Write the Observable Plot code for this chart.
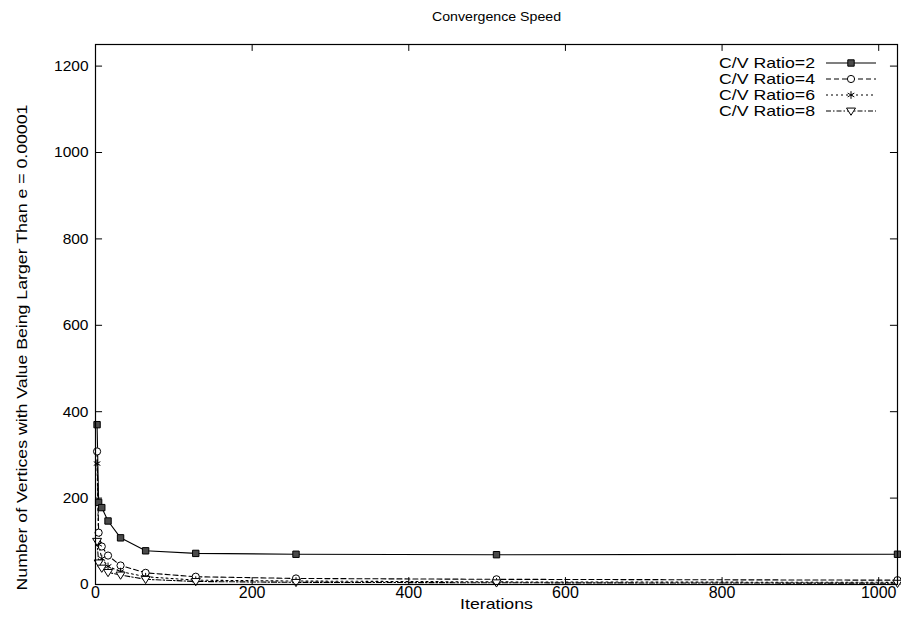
<!DOCTYPE html>
<html><head><meta charset="utf-8">
<script src="https://cdn.jsdelivr.net/npm/d3@7"></script>
<script src="https://cdn.jsdelivr.net/npm/@observablehq/plot@0.6"></script>
<style>body{margin:0;background:#fff} svg{display:block}</style>
</head><body><div id="chart"></div>
<script>
const iterations = [2, 4, 8, 16, 32, 64, 128, 256, 512, 1024];
const ratio2 = [370, 190, 178, 147, 108, 78, 72, 70, 69, 70];
const ratio4 = [308, 120, 88, 67, 44, 27, 18, 14, 12, 10];
const ratio6 = [280, 93, 60, 42, 30, 18, 10, 8, 6, 5];
const ratio8 = [100, 50, 38, 28, 22, 12, 7, 5, 4, 3];
const seriesNames = ["C/V Ratio=2", "C/V Ratio=4", "C/V Ratio=6", "C/V Ratio=8"];
const seriesValues = [ratio2, ratio4, ratio6, ratio8];
const xTicks = [0, 200, 400, 600, 800, 1000];
const yTicks = [0, 200, 400, 600, 800, 1000, 1200];
const titleText = "Convergence Speed";
const xLabel = "Iterations";
const yLabel = "Number of Vertices with Value Being Larger Than e = 0.00001";

const FONT = "'Liberation Sans', Arial, Helvetica, sans-serif";
const dashes = [null, "5,3", "2,3", "5,2,1.5,2"];
const triDown = {
  draw(ctx, size) {
    const r = Math.sqrt(size / Math.PI) * 1.25;
    ctx.moveTo(-r, -r * 0.65);
    ctx.lineTo(r, -r * 0.65);
    ctx.lineTo(0, r * 0.95);
    ctx.closePath();
  }
};
const symbols = ["square", "circle", "asterisk", triDown];
const fills = ["#4a4a4a", "white", "none", "white"];

const rows = [];
seriesNames.forEach((s, i) => iterations.forEach((x, j) => rows.push({series: s, idx: i, x, y: seriesValues[i][j]})));

const lineMarks = seriesNames.map((s, i) => Plot.line(rows.filter(d => d.idx === i), {
  x: "x", y: "y", stroke: "black", strokeWidth: 1.1, strokeDasharray: dashes[i]
}));
const dotMarks = seriesNames.map((s, i) => Plot.dot(rows.filter(d => d.idx === i), {
  x: "x", y: "y", symbol: () => symbols[i], r: 3.6, stroke: "black", strokeWidth: 1, fill: fills[i]
}));

const chart = Plot.plot({
  width: 901, height: 639,
  marginLeft: 95, marginRight: 4, marginTop: 44, marginBottom: 55,
  x: {domain: [0, 1024], axis: null, label: null},
  y: {domain: [0, 1250], axis: null, label: null},
  symbol: {type: "identity"},
  style: {fontFamily: FONT, fontSize: "15px", color: "black", background: "white"},
  marks: [
    Plot.text(xTicks, {x: d => d, text: d => String(d), frameAnchor: "bottom", lineAnchor: "top", dy: 2, fontSize: 16, className: "tick"}),
    Plot.text(yTicks, {y: d => d, text: d => String(d), frameAnchor: "left", textAnchor: "end", lineAnchor: "middle", dx: -7, fontSize: 15.5, className: "tick"}),
    Plot.ruleX(xTicks, {x: d => d, y1: 0, y2: 16, stroke: "black"}),
    Plot.ruleX(xTicks, {x: d => d, y1: 1234, y2: 1250, stroke: "black"}),
    Plot.ruleY(yTicks, {y: d => d, x1: 0, x2: 9, stroke: "black"}),
    Plot.ruleY(yTicks, {y: d => d, x1: 1015, x2: 1024, stroke: "black"}),
    ...lineMarks,
    ...dotMarks,
    Plot.frame({stroke: "black", strokeWidth: 1.2}),
    Plot.text([titleText], {frameAnchor: "top", lineAnchor: "middle", dy: -27, fontSize: 12, className: "lbl"}),
    Plot.text([xLabel], {frameAnchor: "bottom", lineAnchor: "middle", dy: 20, fontSize: 15, className: "lbl"}),
    Plot.text([yLabel], {frameAnchor: "bottom-left", textAnchor: "start", lineAnchor: "middle", dx: -73, dy: 6, rotate: -90, fontSize: 15, className: "lbl"})
  ]
});
document.getElementById("chart").appendChild(chart);

// Legend (gnuplot style, inside top-right)
const svg = d3.select(chart);
const lg = svg.append("g").attr("class", "lbl").attr("font-family", FONT).attr("font-size", 15);
seriesNames.forEach((s, i) => {
  const cy = 63 + i * 16;
  lg.append("text").attr("x", 815).attr("y", cy).attr("dy", "0.35em").attr("text-anchor", "end").text(s);
  lg.append("line").attr("x1", 826).attr("x2", 876).attr("y1", cy).attr("y2", cy)
    .attr("stroke", "black").attr("stroke-width", 1.1).attr("stroke-dasharray", dashes[i]);
  const typ = [d3.symbolSquare, d3.symbolCircle, d3.symbolAsterisk, triDown][i];
  lg.append("path").attr("transform", `translate(851,${cy})`)
    .attr("d", d3.symbol(typ, Math.PI * 3.6 * 3.6)())
    .attr("fill", fills[i]).attr("stroke", "black").attr("stroke-width", 1);
});

// The reference's label lettering is wider than Arial: stretch those texts along their baseline.
svg.selectAll("g.lbl text, g[aria-label='text'].lbl text").each(function () {
  const w = this.getComputedTextLength();
  if (w > 0) {
    this.setAttribute("textLength", (w * 1.18).toFixed(1));
    this.setAttribute("lengthAdjust", "spacingAndGlyphs");
  }
});
</script></body></html>
